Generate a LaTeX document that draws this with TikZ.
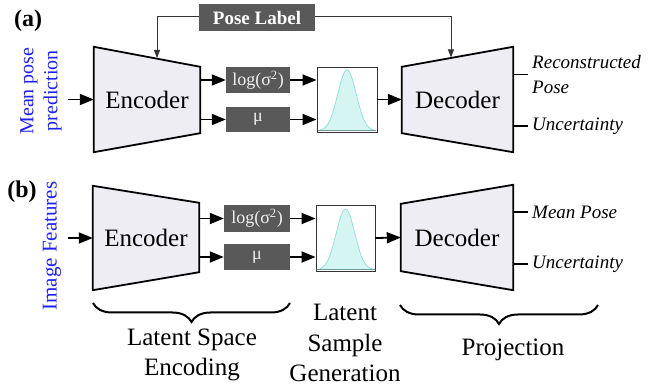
\documentclass[tikz,border=0pt]{standalone}
\usepackage{fontspec}
\setmainfont{Liberation Serif}
\usepackage{xcolor}
\usepackage{tikz}
\usetikzlibrary{arrows.meta, decorations.pathreplacing, backgrounds, calc}

\definecolor{encfill}{HTML}{EFEDF4}
\definecolor{boxgray}{HTML}{595959}
\definecolor{gaussfill}{HTML}{D4F5F1}
\definecolor{gaussline}{HTML}{8FDDD8}
\definecolor{gaussbase}{HTML}{6F9A9C}
\definecolor{sideblue}{HTML}{1E1EFF}

\tikzset{
  blk/.style={minimum width=106pt, minimum height=105pt, inner sep=0pt, font=\fontsize{25}{30}\selectfont},
  trap/.style={draw=black, fill=encfill, line width=1.8pt, line join=miter},
  darkbox/.style={fill=boxgray, text=white!94!black, minimum width=64pt, minimum height=26pt, inner sep=0pt, font=\fontsize{18}{20}\selectfont},
  gaussbox/.style={draw=black!80, line width=0.9pt, fill=white, minimum width=60pt, minimum height=65pt, inner sep=0pt},
  flow/.style={-{Triangle[length=14pt,width=11pt]}, line width=1.8pt},
  thinflow/.style={-{Triangle[length=8pt,width=6pt]}, line width=0.8pt, draw=black!80},
  tickline/.style={line width=1.5pt},
  outtext/.style={anchor=west, inner sep=4pt, font=\itshape\fontsize{19}{25}\selectfont, align=left},
  sidetext/.style={text=sideblue, rotate=90, align=center, inner sep=0pt, font=\fontsize{20}{24}\selectfont},
  brc/.style={decorate, decoration={brace, amplitude=19pt, mirror}, line width=2pt},
  steptext/.style={align=center, inner sep=0pt, font=\fontsize{25}{30.5}\selectfont},
  panel/.style={inner sep=0pt, font=\bfseries\fontsize{24}{26}\selectfont},
}

\begin{document}
\begin{tikzpicture}[x=1pt, y=-1pt]
    \useasboundingbox (0,0) rectangle (672,387);

    % Panel (a)
    \node[panel] (panA) at (28,21) {(a)};
    \node[sidetext] (inA) at (41,91) {Mean pose\\prediction};
    \node[fill=boxgray, text=white, inner sep=0pt, minimum width=116pt, minimum height=27pt,
          font=\bfseries\fontsize{19}{20}\selectfont] (pose) at (257,18) {Pose Label};

    \node[blk] (encA) at (147,99.5) {Encoder};
    \node[darkbox] (logA) at (258,80) {log(σ\textsuperscript{2})};
    \node[darkbox, minimum height=25pt] (muA) at (258,119.5) {μ};
    \node[gaussbox] (gaussA) at (347,99.5) {};
    \node[blk, minimum width=111pt] (decA) at (457.5,99.5) {Decoder};
    \node[outtext] (recA) at (528,74.5) {Reconstructed\\Pose};
    \node[outtext] (uncA) at (528,126) {Uncertainty};

    % Panel (b)
    \node[panel] (panB) at (22,192) {(b)};
    \node[sidetext, font=\fontsize{21}{24}\selectfont] (inB) at (52,246) {Image Features};

    \node[blk, minimum height=104pt] (encB) at (146,238) {Encoder};
    \node[darkbox, minimum width=66pt, minimum height=27pt] (logB) at (257,218.5) {log(σ\textsuperscript{2})};
    \node[darkbox, minimum width=66pt] (muB) at (257,257) {μ};
    \node[gaussbox, minimum width=59pt, minimum height=66pt] (gaussB) at (345.5,238) {};
    \node[blk, minimum width=112pt] (decB) at (457,237.5) {Decoder};
    \node[outtext] (meanB) at (528,212) {Mean Pose};
    \node[outtext] (uncB) at (528,264) {Uncertainty};

    % Trapezoids
    \begin{scope}[on background layer]
        \draw[trap] (encA.north west) -- ([yshift=-20pt]encA.north east) -- ([yshift=19pt]encA.south east) -- (encA.south west) -- cycle;
        \draw[trap] (decA.north east) -- (decA.south east) -- ([yshift=19pt]decA.south west) -- ([yshift=-20pt]decA.north west) -- cycle;
        \draw[trap] (encB.north west) -- ([yshift=-17pt]encB.north east) -- ([yshift=18pt]encB.south east) -- (encB.south west) -- cycle;
        \draw[trap] (decB.north east) -- (decB.south east) -- ([yshift=19pt]decB.south west) -- ([yshift=-19pt]decB.north west) -- cycle;
    \end{scope}

    % Gaussians
    \foreach \g in {gaussA, gaussB} {
        \begin{scope}[shift={($(\g.south)+(0,-1.5)$)}]
            \filldraw[fill=gaussfill, draw=gaussline, line width=0.7pt]
                plot[domain=-28.5:28.5, samples=90] ({\x},{-61*exp(-(\x*\x)/170)}) -- cycle;
            \draw[gaussbase, line width=1pt] (-29,0) -- (29,0);
        \end{scope}
    }

    % Arrows (a)
    \coordinate (srcA) at (68,99.5);
    \draw[flow] (srcA) -- (encA.west);
    \draw[flow] (encA.east |- logA) -- (logA.west);
    \draw[flow] (encA.east |- muA) -- (muA.west);
    \draw[flow] (logA.east) -- (gaussA.west |- logA);
    \draw[flow] (muA.east) -- (gaussA.west |- muA);
    \draw[flow] (gaussA.east) -- (decA.west);
    \draw[tickline] (decA.east |- recA) -- (recA.west);
    \draw[tickline] (decA.east |- uncA) -- (uncA.west);

    \coordinate (encAtop) at (157,58);
    \coordinate (decAtop) at (451,57.5);
    \draw[thinflow] (pose.west |- 0,16) -| (encAtop);
    \draw[thinflow] (pose.east |- 0,16) -| (decAtop);

    % Arrows (b)
    \coordinate (srcB) at (68,238);
    \draw[flow] (srcB) -- (encB.west);
    \draw[flow] (encB.east |- logB) -- (logB.west);
    \draw[flow] (encB.east |- muB) -- (muB.west);
    \draw[flow] (logB.east) -- (gaussB.west |- logB);
    \draw[flow] (muB.east) -- (gaussB.west |- muB);
    \draw[flow] (gaussB.east) -- (decB.west);
    \draw[tickline] (decB.east |- meanB) -- (meanB.west);
    \draw[tickline] (decB.east |- uncB) -- (uncB.west);

    % Stages
    \coordinate (encL) at (93,303);
    \coordinate (encR) at (290,303);
    \coordinate (prjL) at (400,305);
    \coordinate (prjR) at (598,305);
    \draw[brc] (encL) -- (encR);
    \draw[brc] (prjL) -- (prjR);
    \node[steptext] (encLbl) at (192,355) {Latent Space\\Encoding};
    \node[steptext] (smpLbl) at (345,343) {Latent\\Sample\\Generation};
    \node[steptext] (prjLbl) at (513,350) {Projection};
\end{tikzpicture}
\end{document}
